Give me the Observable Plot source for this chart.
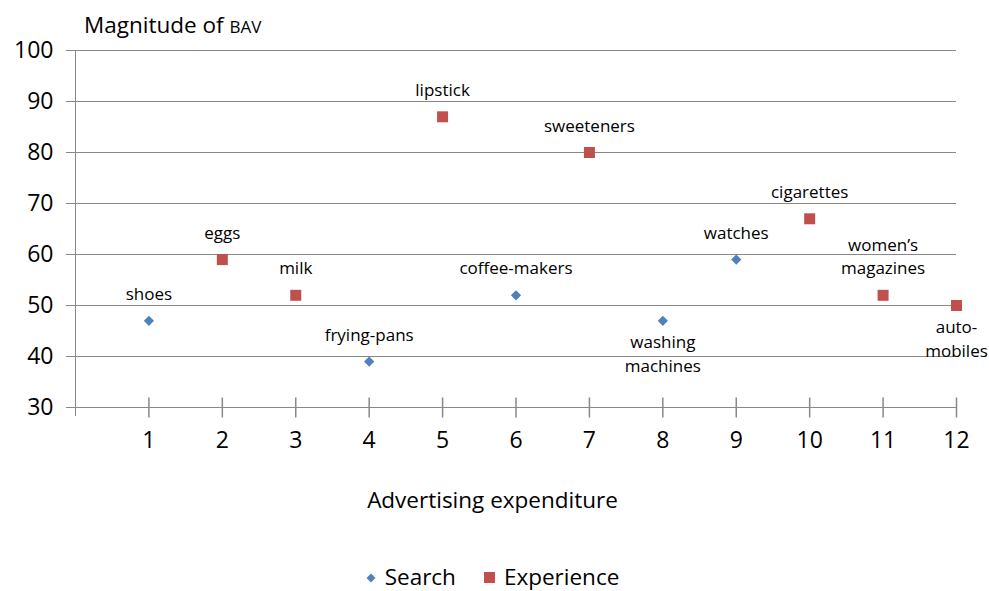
<!DOCTYPE html>
<html>
<head>
<meta charset="utf-8">
<script src="https://cdn.jsdelivr.net/npm/d3@7"></script>
<script src="https://cdn.jsdelivr.net/npm/@observablehq/plot@0.6"></script>
<style>
  html, body { margin: 0; padding: 0; background: #fff; overflow: hidden; }
  body { width: 989px; height: 591px; font-family: "Open Sans", Lato, sans-serif; color: #000; }
  #title { height: 40px; padding-left: 84px; font-size: 22.5px; line-height: 50px; }
  #title .sc { font-size: 17px; }
  #xlabel { height: 80px; line-height: 80px; text-align: center; font-size: 22.5px; padding-right: 4px; }
  #legend { height: 51px; display: flex; justify-content: center; align-items: center; gap: 28px; font-size: 22.5px; line-height: 1; padding-top: 24px; padding-bottom: 0; padding-right: 4px; box-sizing: border-box; }
  #legend span.item { display: inline-flex; align-items: center; gap: 9px; }
</style>
</head>
<body>
<div id="title">Magnitude of <span class="sc">BAV</span></div>
<div id="chart"></div>
<div id="xlabel">Advertising expenditure</div>
<div id="legend"></div>
<script>
// Axis ticks
const xTicks = [1, 2, 3, 4, 5, 6, 7, 8, 9, 10, 11, 12];
const yTicks = [30, 40, 50, 60, 70, 80, 90, 100];

// Search goods
const searchLabels = ["shoes", "frying-pans", "coffee-makers", "washing\nmachines", "watches"];
const searchX = [1, 4, 6, 8, 9];
const searchY = [47, 39, 52, 47, 59];

// Experience goods
const experienceLabels = ["eggs", "milk", "lipstick", "sweeteners", "cigarettes", "women’s\nmagazines", "auto-\nmobiles"];
const experienceX = [2, 3, 5, 7, 10, 11, 12];
const experienceY = [59, 52, 87, 80, 67, 52, 50];

// Labels written under their marker instead of above it
const labelsBelow = ["washing\nmachines", "auto-\nmobiles"];

const seriesNames = ["Search", "Experience"];
const seriesColors = ["#4F81BD", "#C0504D"];

const search = searchLabels.map((label, i) => ({label, x: searchX[i], y: searchY[i]}));
const experience = experienceLabels.map((label, i) => ({label, x: experienceX[i], y: experienceY[i]}));
const all = search.concat(experience);
const above = all.filter(d => !labelsBelow.includes(d.label));
const below = all.filter(d => labelsBelow.includes(d.label));

const gridColor = "#888888";
const labelFont = 17;

// A short vertical stroke crossing the x axis at each category
const crossTick = {
  draw(context) {
    context.moveTo(0, -10);
    context.lineTo(0, 10);
  }
};

const chart = Plot.plot({
  width: 989,
  height: 420,
  marginTop: 10,
  marginLeft: 75,
  marginRight: 33,
  marginBottom: 53,
  style: {fontFamily: "'Open Sans', Lato, sans-serif", overflow: "visible", background: "#fff"},
  x: {domain: [0, 12]},
  y: {domain: [30, 100]},
  marks: [
    Plot.gridY(yTicks, {stroke: gridColor, strokeOpacity: 1}),
    Plot.ruleX([0], {stroke: gridColor, insetBottom: -9}),
    Plot.dot(xTicks, {x: d => d, frameAnchor: "bottom", symbol: crossTick, stroke: gridColor, fill: "none"}),
    Plot.axisY(yTicks, {tickSize: 9, tickPadding: 13, fontSize: 23, color: "#000", stroke: gridColor, label: null}),
    Plot.axisX(xTicks, {tickSize: 0, tickPadding: 24, fontSize: 23, color: "#000", label: null}),
    Plot.dot(search, {x: "x", y: "y", symbol: "diamond2", r: 4.6, fill: seriesColors[0], stroke: "none"}),
    Plot.dot(experience, {x: "x", y: "y", symbol: "square", r: 6.2, fill: seriesColors[1], stroke: "none"}),
    Plot.text(above, {x: "x", y: "y", text: "label", lineAnchor: "bottom", dy: -21, fontSize: labelFont, lineHeight: 1.38, fill: "#000"}),
    Plot.text(below, {x: "x", y: "y", text: "label", lineAnchor: "top", dy: 11, fontSize: labelFont, lineHeight: 1.38, fill: "#000"})
  ]
});
document.getElementById("chart").appendChild(chart);

// Legend
const legend = document.getElementById("legend");
const shapes = [
  '<svg width="10" height="10" viewBox="-5 -5 10 10"><path d="M0,-4.5L4.5,0L0,4.5L-4.5,0Z" fill="' + seriesColors[0] + '"/></svg>',
  '<svg width="11" height="11" viewBox="0 0 11 11"><rect width="11" height="11" fill="' + seriesColors[1] + '"/></svg>'
];
seriesNames.forEach((name, i) => {
  const item = document.createElement("span");
  item.className = "item";
  item.innerHTML = shapes[i] + "<span>" + name + "</span>";
  legend.appendChild(item);
});
</script>
</body>
</html>
